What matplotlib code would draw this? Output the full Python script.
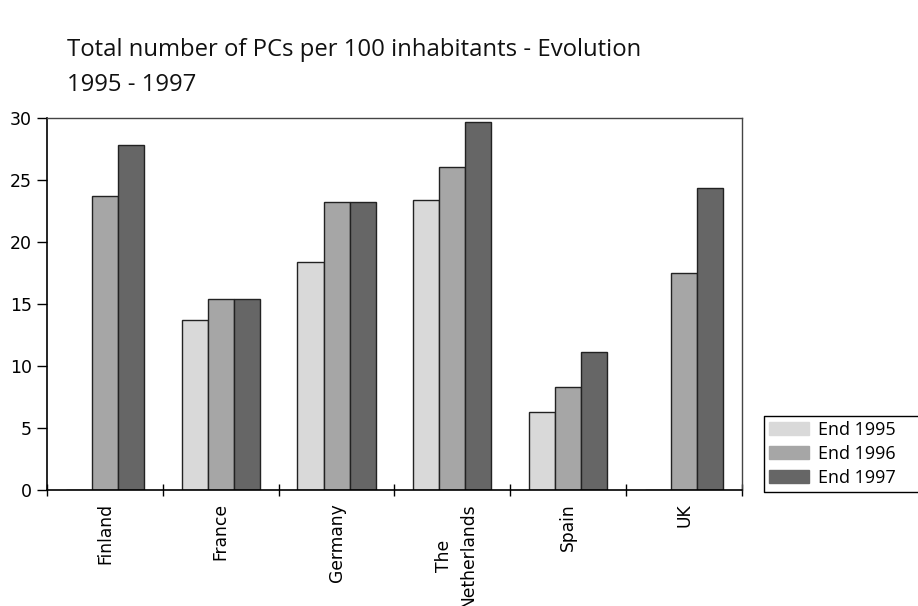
import numpy as np
import matplotlib.pyplot as plt
import matplotlib.transforms as mtransforms
from matplotlib.lines import Line2D

# PCs per 100 inhabitants by country, end of year
countries = ['Finland', 'France', 'Germany', 'The\nNetherlands', 'Spain', 'UK']
end_1995 = [0, 13.7, 18.4, 23.4, 6.3, 0]
end_1996 = [23.7, 15.4, 23.2, 26.1, 8.3, 17.5]
end_1997 = [27.8, 15.4, 23.2, 29.7, 11.1, 24.4]
series_labels = ['End 1995', 'End 1996', 'End 1997']
colors = ['#d9d9d9', '#a6a6a6', '#666666']

fig = plt.figure(figsize=(9.18, 6.06), dpi=100)
ax = fig.add_axes([0.0512, 0.1914, 0.757, 0.6136])

x = np.arange(len(countries))
width = 0.225
handles = []
for i, (vals, lab, col) in enumerate(zip([end_1995, end_1996, end_1997], series_labels, colors)):
    ax.bar(x + (i - 1) * width, vals, width, color=col,
           edgecolor='#222222', linewidth=1.0, label=lab)
    handles.append(plt.Rectangle((0, 0), 1, 1, color=col))

ax.set_xlim(-0.5, len(countries) - 0.5)
ax.set_ylim(0, 30)
ax.set_yticks(range(0, 31, 5))
ax.tick_params(axis='y', direction='out', length=7, width=1, labelsize=12.5, pad=4)

# category boundaries get the tick marks, names sit between them
ax.set_xticks(np.arange(-0.5, len(countries), 1.0))
ax.set_xticklabels([])
ax.tick_params(axis='x', direction='inout', length=8, width=1)
ax.set_xticks(x, minor=True)
ax.set_xticklabels(countries, minor=True, rotation=90, fontsize=12.3,
                   va='top', ha='center', multialignment='center',
                   linespacing=1.45)
ax.tick_params(axis='x', which='minor', length=0, pad=9.5)

# two-line label sits a little right of its group centre
nl = ax.get_xticklabels(minor=True)[3]
nl.set_transform(nl.get_transform() +
                 mtransforms.ScaledTranslation(4 / 100, 0, fig.dpi_scale_trans))

for s in ['top', 'right']:
    ax.spines[s].set_color('#444444')
    ax.spines[s].set_linewidth(1.0)
for s in ['left', 'bottom']:
    ax.spines[s].set_color('black')
    ax.spines[s].set_linewidth(1.2)

fig.text(0.073, 0.889, 'Total number of PCs per 100 inhabitants - Evolution\n1995 - 1997',
         fontsize=17.2, family='Open Sans', color='#111111', va='center',
         linespacing=1.64)

leg = fig.legend(handles, series_labels, loc='upper left',
                 bbox_to_anchor=(764 / 918, 1 - 416 / 606),
                 frameon=False,
                 prop={'family': 'Open Sans', 'size': 13},
                 handlelength=2.2, handleheight=0.72, handletextpad=0.5,
                 labelspacing=0.32, borderpad=0.28, borderaxespad=0)

# legend box is open on the right: it runs off the edge of the figure
fig.canvas.draw()
bb = leg.get_window_extent().transformed(fig.transFigure.inverted())
fig.add_artist(Line2D([1.01, bb.x0, bb.x0, 1.01], [bb.y1, bb.y1, bb.y0, bb.y0],
                      transform=fig.transFigure, color='black', lw=1.0))

fig.savefig('out.png', dpi=100)
